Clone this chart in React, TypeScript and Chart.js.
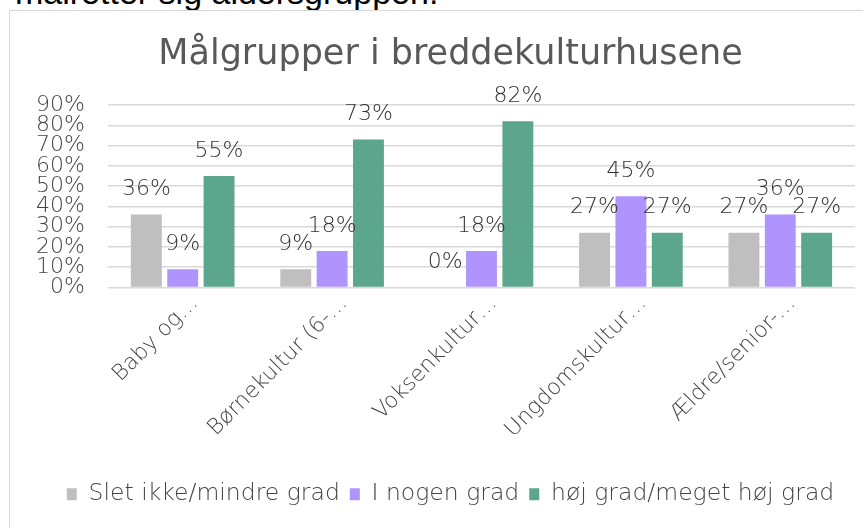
import React, { useEffect, useRef } from "react";
import { Chart, registerables } from "chart.js";

Chart.register(...registerables);

const categories = [
  "Baby og…",
  "Børnekultur (6-…",
  "Voksenkultur…",
  "Ungdomskultur…",
  "Ældre/senior-…",
];
const sletIkke = [36, 9, 0, 27, 27];
const nogenGrad = [9, 18, 18, 45, 36];
const hoejGrad = [55, 73, 82, 27, 27];
const seriesNames = ["Slet ikke/mindre grad", "I nogen grad", "høj grad/meget høj grad"];
const seriesColors = ["#BFBFBF", "#AF94FD", "#5BA68C"];
const titleText = "Målgrupper i breddekulturhusene";
const yMax = 90;
const yStep = 10;

const FONT = "'DejaVu Sans', sans-serif";
const LIGHT = 200 as any;

const valueLabels = {
  id: "valueLabels",
  afterDatasetsDraw(chart: any) {
    const ctx = chart.ctx;
    ctx.save();
    ctx.font = `${LIGHT} 22px ${FONT}`;
    ctx.fillStyle = "#333333";
    ctx.textAlign = "center";
    ctx.textBaseline = "middle";
    chart.data.datasets.forEach((ds: any, i: number) => {
      const meta = chart.getDatasetMeta(i);
      meta.data.forEach((el: any, j: number) => {
        ctx.fillText(`${ds.data[j]}%`, el.x, el.y - 25);
      });
    });
    ctx.restore();
  },
};

const shiftBoxes = {
  id: "shiftBoxes",
  afterLayout(chart: any) {
    const lg = chart.legend;
    if (lg) {
      lg.left += 18;
      lg.right += 18;
    }
    const tb = chart.titleBlock;
    if (tb) {
      tb.left += 18;
      tb.right += 18;
    }
  },
};

export default function App() {
  const ref = useRef<HTMLCanvasElement | null>(null);
  useEffect(() => {
    if (!ref.current) return;
    const chart = new Chart(ref.current, {
      type: "bar",
      data: {
        labels: categories,
        datasets: [sletIkke, nogenGrad, hoejGrad].map((d, i) => ({
          label: seriesNames[i],
          data: d,
          backgroundColor: seriesColors[i],
          categoryPercentage: 0.73,
          barPercentage: 0.85,
        })),
      },
      options: {
        animation: false,
        responsive: false,
        maintainAspectRatio: false,
        layout: { padding: { top: 10, left: 10, right: 8, bottom: 12 } },
        plugins: {
          title: {
            display: true,
            text: titleText,
            color: "#595959",
            font: { family: FONT, size: 35, weight: "normal" },
            padding: { top: 24, bottom: 29 },
          },
          legend: {
            position: "bottom",
            labels: {
              color: "#444444",
              font: { family: FONT, size: 23.5, weight: LIGHT },
              boxWidth: 10,
              boxHeight: 12,
              padding: 10,
            },
          },
          tooltip: { enabled: false },
        },
        scales: {
          x: {
            grid: { display: false },
            border: { display: false },
            ticks: {
              color: "#444444",
              font: { family: FONT, size: 22, weight: LIGHT },
              minRotation: 45,
              maxRotation: 45,
              autoSkip: false,
              padding: -5,
              labelOffset: 12,
            },
            afterFit: (s: any) => {
              s.height = 185;
            },
          },
          y: {
            min: 0,
            max: yMax,
            grid: { color: "#D9D9D9", lineWidth: 1.5, drawTicks: false },
            border: { display: false },
            ticks: {
              stepSize: yStep,
              autoSkip: false,
              color: "#444444",
              font: { family: FONT, size: 22, weight: LIGHT },
              padding: 23,
              callback: (v: any) => `${v}%`,
            },
            afterFit: (s: any) => {
              s.width = 98;
            },
          },
        },
      },
      plugins: [valueLabels, shiftBoxes],
    });
    return () => chart.destroy();
  }, []);

  return (
    <div style={{ position: "fixed", left: 0, top: 0, width: 863, height: 528, overflow: "hidden", background: "#fff" }}>
      <div
        style={{
          position: "absolute",
          left: 15,
          top: -25,
          fontFamily: "'Liberation Sans', sans-serif",
          fontSize: 34,
          lineHeight: "34px",
          color: "#000",
          whiteSpace: "nowrap",
        }}
      >
        målretter sig aldersgruppen.
      </div>
      <div
        style={{
          position: "absolute",
          left: 9,
          top: 10,
          width: 1000,
          height: 1000,
          border: "1.5px solid #D9D9D9",
          background: "#fff",
        }}
      />
      <canvas ref={ref} width={863} height={528} style={{ position: "absolute", left: 0, top: 0, width: 863, height: 528 }} />
    </div>
  );
}
